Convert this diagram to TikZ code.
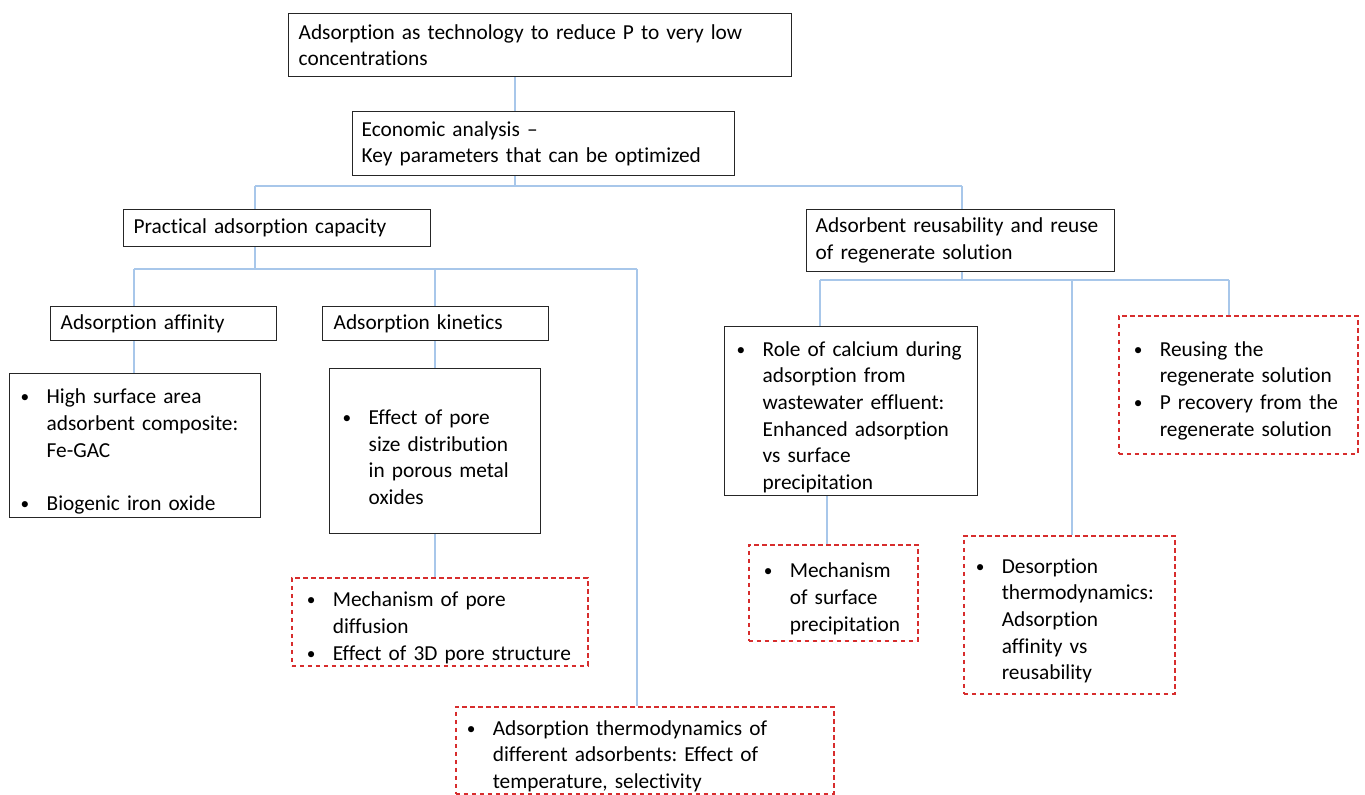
\documentclass[tikz,border=0pt]{standalone}
\usepackage{fontspec}
\setmainfont{Carlito}[Ligatures={NoCommon}]
\usetikzlibrary{calc}
\definecolor{linkblue}{RGB}{168,199,234}
\definecolor{gapred}{RGB}{215,45,45}
\newcommand\itm{\par\hangindent=19.5pt\hangafter=1\noindent\makebox[19.5pt][l]{\raisebox{.8pt}{\fontsize{13}{13}\selectfont\textbullet}}}

\begin{document}
\begin{tikzpicture}[x=0.75pt,y=-0.75pt,
box/.style={draw=black!85,line width=1pt,anchor=north west,align=left,inner ysep=0pt,font=\fontsize{16}{20}\selectfont\frenchspacing},
gapbox/.style={box,draw=gapred,line width=1.2pt,dash pattern=on 3.5pt off 2.5pt},
sz/.style n args={3}{minimum width=#1*0.75pt,minimum height=#2*0.75pt,text width=#3*0.75pt},
link/.style={draw=linkblue,line width=1pt}]
\useasboundingbox(0,0)rectangle(1365,795);
% upper levels
\node[box,sz={503}{63}{483}](top)at(288,13){Adsorption as technology to reduce P to very low\newline concentrations};
\node[box,sz={382}{64}{364}](econ)at(352,111){Economic analysis --\newline Key parameters that can be optimized};
\node[box,sz={307}{37}{287}](capacity)at(123,209){Practical adsorption capacity};
\node[box,sz={308}{62}{290}](reuse)at(806,209){Adsorbent reusability and reuse\newline of regenerate solution};
\node[box,sz={226}{34}{206}](affinity)at(50,306){Adsorption affinity};
\node[box,sz={226}{34}{204}](kinetics)at(322,306){Adsorption kinetics};
% bullet boxes
\node[box,sz={251}{144}{229}](affbox)at(9,373){\itm High surface area\newline adsorbent composite:\newline Fe-GAC\par\vskip20pt\itm Biogenic iron oxide\par};
\node[box,sz={211}{165}{185}](kinbox)at(329,368){\itm Effect of pore\newline size distribution\newline in porous metal\newline oxides\par};
\node[box,sz={253}{169}{229}](calbox)at(724,326){\itm Role of calcium during\newline adsorption from\newline wastewater effluent:\newline Enhanced adsorption\newline vs surface\newline precipitation\par};
% open questions (dashed)
\node[gapbox,sz={296}{88}{266}](porebox)at(291,577){\itm Mechanism of pore\newline diffusion\itm Effect of 3D pore structure\par};
\node[gapbox,sz={378}{87}{356}](thermobox)at(455,706){\itm Adsorption thermodynamics of\newline different adsorbents: Effect of\newline temperature, selectivity\par};
\node[gapbox,sz={169}{96}{139}](precipbox)at(748,544){\itm Mechanism\newline of surface\newline precipitation\par};
\node[gapbox,sz={211}{158}{187}](desorbbox)at(963,535){\itm Desorption\newline thermodynamics:\newline Adsorption\newline affinity vs\newline reusability\par};
\node[gapbox,sz={239}{138}{209}](regenbox)at(1118,315){\itm Reusing the\newline regenerate solution\itm P recovery from the\newline regenerate solution\par};
% connectors
\coordinate(e1)at(515,186);\coordinate(c1)at(255,186);\coordinate(r1)at(962,186);
\draw[link](top.south-|e1)--(econ.north-|e1);
\draw[link](econ.south-|e1)--(e1) (c1)--(r1) (c1)--(capacity.north-|c1) (r1)--(reuse.north-|r1);
\coordinate(c2)at(255,269);\coordinate(a2)at(134,269);\coordinate(k2)at(435,269);\coordinate(t2)at(637,269);
\draw[link](capacity.south-|c2)--(c2) (a2)--(t2) (a2)--(affinity.north-|a2) (k2)--(kinetics.north-|k2) (t2)--(thermobox.north-|t2);
\draw[link](affinity.south-|a2)--(affbox.north-|a2);
\draw[link](kinetics.south-|k2)--(kinbox.north-|k2);\draw[link](kinbox.south-|k2)--(porebox.north-|k2);
\coordinate(r3)at(962,280);\coordinate(ca3)at(820,280);\coordinate(d3)at(1072,280);\coordinate(g3)at(1229,280);
\draw[link](reuse.south-|r3)--(r3) (ca3)--(g3) (ca3)--(calbox.north-|ca3) (d3)--(desorbbox.north-|d3) (g3)--(regenbox.north-|g3);
\coordinate(p4)at(827,520);\draw[link](calbox.south-|p4)--(precipbox.north-|p4);
\end{tikzpicture}
\end{document}
